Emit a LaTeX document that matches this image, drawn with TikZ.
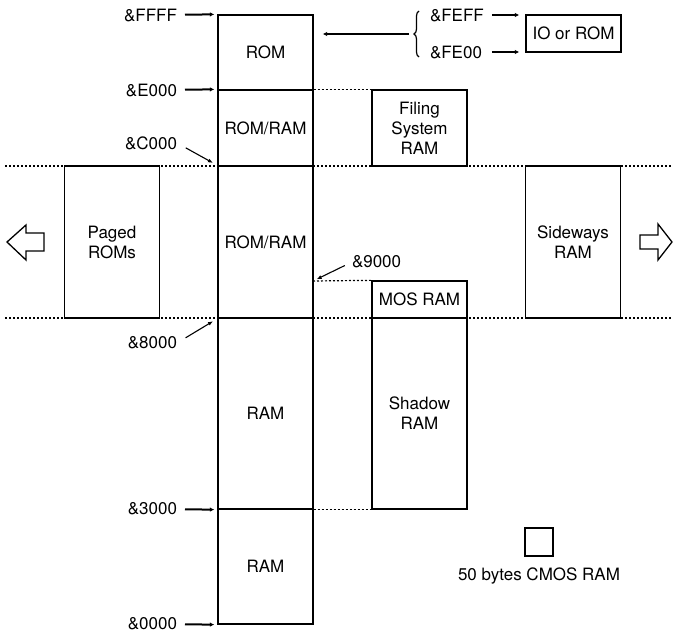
\documentclass[tikz,border=0pt]{standalone}
\usepackage{fontspec}
\setmainfont{TeX Gyre Heros}
\usetikzlibrary{arrows.meta,decorations.pathreplacing}
\tikzset{
  memmap/.style={x=1pt,y=-1pt,font=\fontsize{17}{20}\selectfont},
  blk/.style={draw,line width=1.3pt,minimum width=95pt,inner sep=0pt,align=center},
  addr/.style={inner sep=0pt,outer sep=0pt},
  ptr/.style={-{Latex[length=4.5pt,width=4.5pt]},line width=2pt,shorten <=8pt,shorten >=3pt},
  thinptr/.style={-{Latex[length=5pt,width=4pt]},line width=1.1pt},
  dots/.style={line width=1.2pt,dash pattern=on 2pt off 2pt},
  fat/.style={draw,line width=1.3pt,line join=miter}
}
\begin{document}
\begin{tikzpicture}[memmap]
    \useasboundingbox (0,0) rectangle (673,632);
    \coordinate (a9000) at (313,281);
    \draw[dots] (5,166) -- (673,166); % &C000 level
    \draw[dots] (5,318) -- (673,318); % &8000 level
    % main memory column
    \node[blk,minimum height=75pt] (rom) at (265.5,52.5) {ROM};
    \node[blk,minimum height=76pt] (romram1) at (265.5,128) {ROM/RAM};
    \node[blk,minimum height=152pt] (romram2) at (265.5,242) {ROM/RAM};
    \node[blk,minimum height=191pt] (ram1) at (265.5,413.5) {RAM};
    \node[blk,minimum height=115pt] (ram2) at (265.5,566.5) {RAM};
    % banks beside it
    \node[blk,minimum height=76pt] (filing) at (419.5,128) {Filing\\System\\RAM};
    \node[blk,minimum height=37pt] (mosram) at (419.5,299.5) {MOS RAM};
    \node[blk,minimum height=191pt] (shadow) at (419.5,413.5) {Shadow\\RAM};
    \node[blk,minimum height=152pt] (paged) at (112,242) {Paged\\ROMs};
    \node[blk,minimum height=152pt] (sideways) at (573,242) {Sideways\\RAM};
    \node[blk,minimum height=37pt] (io) at (573.5,33.5) {IO or ROM};
    \node[blk,minimum width=28pt,minimum height=28pt] (cmos) at (539,542) {};
    \node (cmoslbl) at (539,576) {50 bytes CMOS RAM};
    \draw[dots] (romram1.north east) -- (filing.north west);
    \draw[dots] (ram1.south east) -- (shadow.south west);
    \draw[dots] (a9000) -- (mosram.north west);
    % addresses
    \node[addr,anchor=east] (lffff) at (177,15) {\&FFFF};
    \node[addr,anchor=east] (le000) at (177,90) {\&E000};
    \node[addr,anchor=east] (lc000) at (177,143) {\&C000};
    \node[addr,anchor=east] (l8000) at (177,343) {\&8000};
    \node[addr,anchor=east] (l3000) at (177,509) {\&3000};
    \node[addr,anchor=east] (l0000) at (177,624) {\&0000};
    \node[addr,anchor=west] (l9000) at (352,262) {\&9000};
    \node[addr,anchor=west] (lfeff) at (430,15) {\&FEFF};
    \node[addr,anchor=west] (lfe00) at (430,52) {\&FE00};
    \draw[ptr] (lffff) -- (rom.north west);
    \draw[ptr] (le000) -- (romram1.north west);
    \draw[ptr] (l3000) -- (ram1.south west);
    \draw[ptr] (l0000) -- (ram2.south west);
    \draw[thinptr,shorten <=10pt,shorten >=5pt] (lc000.east) -- (romram2.north west);
    \draw[thinptr,shorten <=10pt,shorten >=5pt] (l8000.east) -- (romram2.south west);
    \draw[thinptr,shorten <=8pt,shorten >=4pt] (l9000.west) -- (a9000);
    \draw[ptr,shorten >=6pt] (lfeff) -- (io.west |- lfeff);
    \draw[ptr,shorten <=10pt,shorten >=6pt] (lfe00) -- (io.west |- lfe00);
    % brace for the IO page
    \draw[line width=1.2pt,decorate,decoration={brace,amplitude=5pt}] (419,57) -- (419,11);
    \coordinate (brace) at (413,34);
    \draw[ptr,line width=1.6pt,shorten <=4pt,shorten >=9pt] (brace) -- (rom.east |- brace);
    % hollow paging arrows
    \draw[fat] (44,233) -- (26,233) -- (26,225) -- (7,242) -- (26,260) -- (26,251) -- (44,251) -- cycle;
    \draw[fat] (640,235) -- (658,235) -- (658,224) -- (672,242) -- (658,260) -- (658,249) -- (640,249) -- cycle;
\end{tikzpicture}
\end{document}
